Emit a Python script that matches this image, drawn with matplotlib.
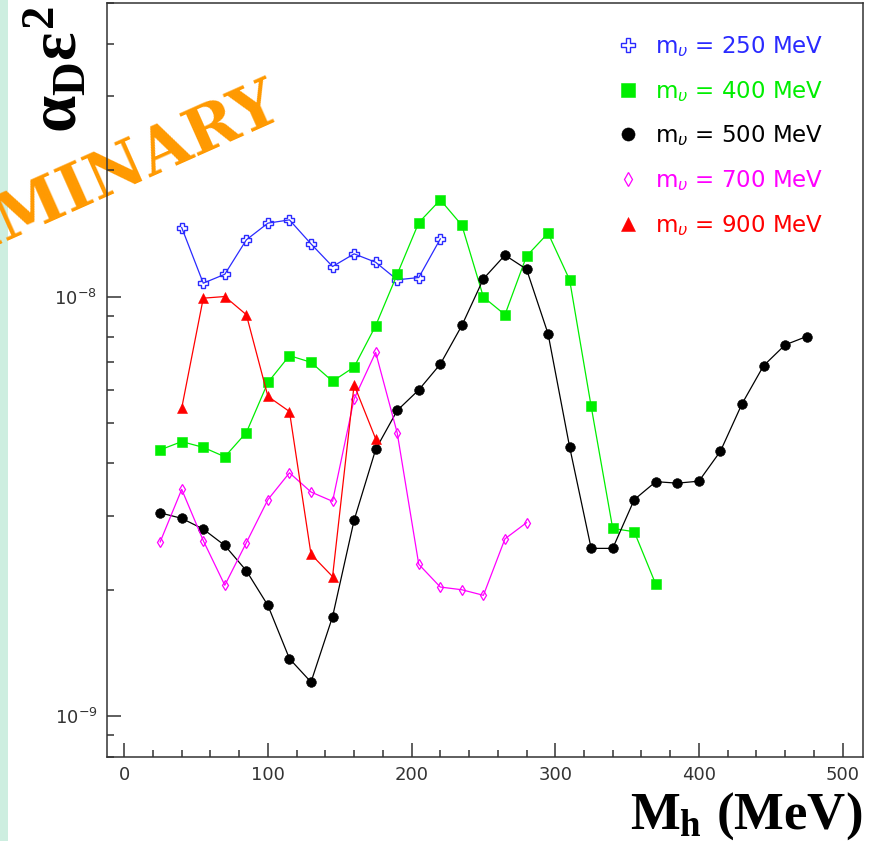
import matplotlib
matplotlib.use("Agg")
import matplotlib.pyplot as plt
from matplotlib.lines import Line2D
from matplotlib.patches import Rectangle
from matplotlib.ticker import MultipleLocator, LogLocator, LogFormatterMathtext, NullFormatter

# serif bold for the axis titles (used through math_fontfamily="custom")
plt.rcParams["mathtext.rm"] = "Liberation Serif:bold"
plt.rcParams["mathtext.it"] = "Liberation Serif:bold"
plt.rcParams["mathtext.bf"] = "Liberation Serif:bold"
plt.rcParams["mathtext.fontset"] = "dejavusans"

# upper limits vs dark Higgs mass, one curve per dark-fermion mass
mh_250 = [40, 55, 70, 85, 100, 115, 130, 145, 160, 175, 190, 205, 220]
lim_250 = [1.46e-8, 1.076e-8, 1.13e-8, 1.365e-8, 1.496e-8, 1.523e-8, 1.335e-8,
           1.179e-8, 1.264e-8, 1.207e-8, 1.096e-8, 1.11e-8, 1.372e-8]

mh_400 = [25, 40, 55, 70, 85, 100, 115, 130, 145, 160, 175, 190, 205, 220,
          235, 250, 265, 280, 295, 310, 325, 340, 355, 370]
lim_400 = [4.31e-9, 4.51e-9, 4.37e-9, 4.15e-9, 4.74e-9, 6.24e-9, 7.23e-9,
           6.97e-9, 6.28e-9, 6.79e-9, 8.52e-9, 1.13e-8, 1.50e-8, 1.70e-8,
           1.479e-8, 9.97e-9, 9.05e-9, 1.248e-8, 1.416e-8, 1.096e-8,
           5.47e-9, 2.80e-9, 2.75e-9, 2.06e-9]

mh_500 = [25, 40, 55, 70, 85, 100, 115, 130, 145, 160, 175, 190, 205, 220,
          235, 250, 265, 280, 295, 310, 325, 340, 355, 370, 385, 400, 415,
          430, 445, 460, 475]
lim_500 = [3.05e-9, 2.96e-9, 2.79e-9, 2.55e-9, 2.22e-9, 1.835e-9, 1.37e-9,
           1.205e-9, 1.725e-9, 2.93e-9, 4.32e-9, 5.35e-9, 5.99e-9, 6.90e-9,
           8.53e-9, 1.102e-8, 1.255e-8, 1.162e-8, 8.15e-9, 4.38e-9, 2.51e-9,
           2.51e-9, 3.28e-9, 3.62e-9, 3.59e-9, 3.63e-9, 4.28e-9, 5.55e-9,
           6.84e-9, 7.67e-9, 8.03e-9]

mh_700 = [25, 40, 55, 70, 85, 100, 115, 130, 145, 160, 175, 190, 205, 220,
          235, 250, 265, 280]
lim_700 = [2.60e-9, 3.47e-9, 2.62e-9, 2.05e-9, 2.59e-9, 3.28e-9, 3.80e-9,
           3.42e-9, 3.25e-9, 5.70e-9, 7.36e-9, 4.73e-9, 2.30e-9, 2.03e-9,
           2.00e-9, 1.94e-9, 2.645e-9, 2.89e-9]

mh_900 = [40, 55, 70, 85, 100, 115, 130, 145, 160, 175]
lim_900 = [5.42e-9, 9.91e-9, 1.0e-8, 9.05e-9, 5.78e-9, 5.32e-9, 2.43e-9,
           2.15e-9, 6.16e-9, 4.58e-9]

legend_labels = [r"m$_{\upsilon}$ = 250 MeV", r"m$_{\upsilon}$ = 400 MeV",
                 r"m$_{\upsilon}$ = 500 MeV", r"m$_{\upsilon}$ = 700 MeV",
                 r"m$_{\upsilon}$ = 900 MeV"]

W, H = 875, 841
fig = plt.figure(figsize=(W / 100, H / 100), dpi=100, facecolor="white")

# mint strip on the left edge of the slide
fig.patches.append(Rectangle((0, 0), 8 / W, 1, transform=fig.transFigure,
                             facecolor="#cdeee0", edgecolor="none", zorder=-3))

ax = fig.add_axes([107 / W, 84.3 / H, 755.7 / W, 753.4 / H])
ax.patch.set_alpha(0)

series = [
    (mh_250, lim_250, "#2a2aff", "P", 7.5, 1.0, "none"),
    (mh_400, lim_400, "#00ee00", "s", 7.0, 0.4, "#00ee00"),
    (mh_500, lim_500, "#000000", "o", 7.0, 0.4, "#000000"),
    (mh_700, lim_700, "#ff00ff", "d", 5.0, 0.9, "none"),
    (mh_900, lim_900, "#ff0000", "^", 7.4, 0.4, "#ff0000"),
]

handles = []
for (xs, ys, col, mk, ms, mew, mfc), lab in zip(series, legend_labels):
    ax.plot(xs, ys, color=col, lw=0.9, marker=mk, ms=ms, mew=mew,
            mec=col, mfc=mfc, zorder=3)
    handles.append(Line2D([], [], ls="none", marker=mk, color=col,
                          ms=ms * 1.35, mew=mew, mec=col, mfc=mfc, label=lab))

ax.set_yscale("log")
ax.set_xlim(-12, 514)
ax.set_ylim(8e-10, 5e-8)

ax.xaxis.set_major_locator(MultipleLocator(100))
ax.xaxis.set_minor_locator(MultipleLocator(20))
ax.yaxis.set_major_locator(LogLocator(base=10))
ax.yaxis.set_minor_locator(LogLocator(base=10, subs=range(2, 10)))
ax.yaxis.set_major_formatter(LogFormatterMathtext())
ax.yaxis.set_minor_formatter(NullFormatter())

ax.tick_params(which="both", direction="in", top=False, right=False,
               colors="#333333", width=1.1, labelsize=13, labelcolor="#333333")
ax.tick_params(which="major", length=10, pad=7)
ax.tick_params(which="minor", length=5)
for sp in ax.spines.values():
    sp.set_color("#333333")
    sp.set_linewidth(1.1)

ax.set_ylabel(r"$\alpha_{D}\varepsilon^{2}$", loc="top", fontsize=48,
              math_fontfamily="custom")
ax.yaxis.set_label_coords(-0.021, 0.996)
ax.set_xlabel(r"$M_{h}\ (MeV)$", loc="right", fontsize=38,
              math_fontfamily="custom")
ax.xaxis.set_label_coords(1.0, -0.044)

leg = ax.legend(handles=handles, loc="upper left", bbox_to_anchor=(0.677, 0.959),
                frameon=False, fontsize=16.5, borderpad=0, borderaxespad=0,
                handlelength=0.8, handletextpad=0.8, labelspacing=0.86,
                labelcolor=[s[2] for s in series])

# preliminary stamp, cut off by the left edge
fig.text(284 / W, 1 - 117 / H, "PRELIMINARY", color="#ff9900",
         fontfamily="DejaVu Serif", fontweight="bold", fontsize=46,
         rotation=24, rotation_mode="anchor", ha="right", va="baseline",
         zorder=-1)

fig.savefig("out.png", dpi=100, facecolor="white")
